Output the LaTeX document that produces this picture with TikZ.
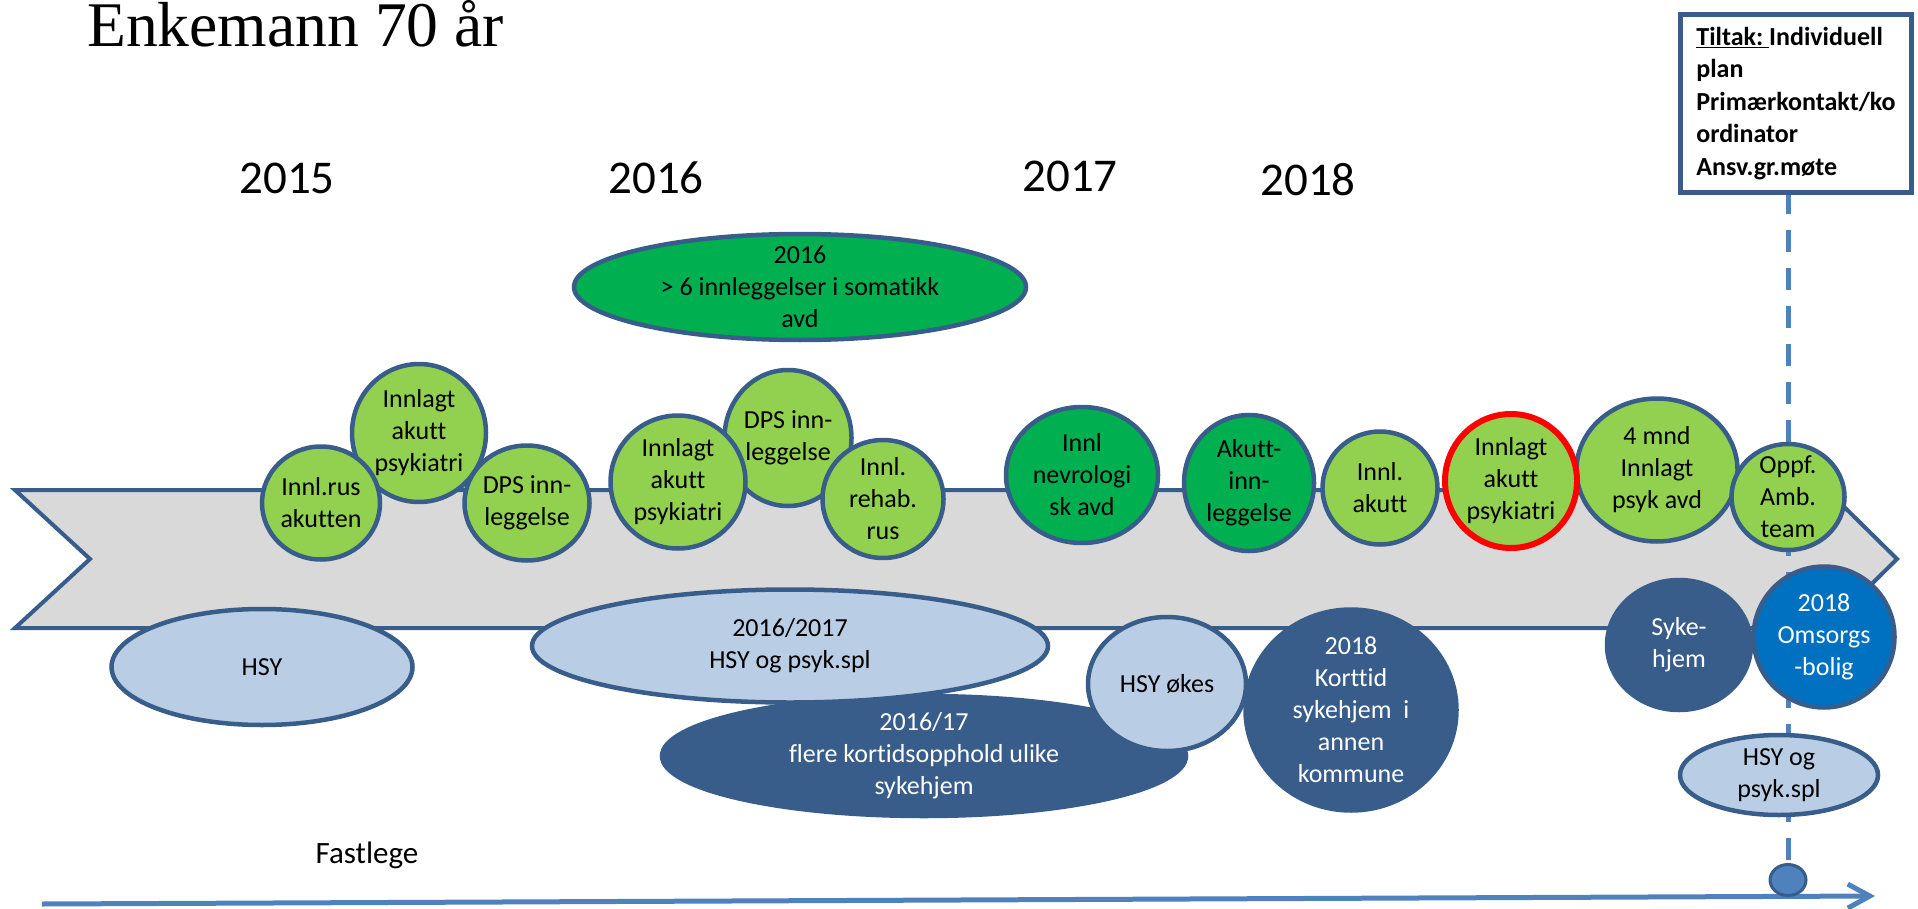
\documentclass[tikz,border=0pt]{standalone}
\usepackage{fontspec}
\setmainfont{Carlito}[Ligatures=NoCommon]
\newfontfamily\titlefont{Liberation Serif}
\usepackage{xcolor}
\usetikzlibrary{shapes.geometric, arrows.meta, positioning}

\definecolor{blobline}{HTML}{385D8A}
\definecolor{ballgreen}{HTML}{92D050}
\definecolor{deepgreen}{HTML}{00B050}
\definecolor{paleblue}{HTML}{B9CDE5}
\definecolor{homeblue}{HTML}{385D8A}
\definecolor{brightblue}{HTML}{0070C0}
\definecolor{lineblue}{HTML}{4F81BD}
\definecolor{bandgrey}{HTML}{D9D9D9}

\begin{document}
\begin{tikzpicture}[
        x=1pt, y=-1pt,
        dims/.style 2 args={minimum width=#1pt, minimum height=#2pt},
        blob/.style={ellipse, draw=blobline, line width=4.5pt, inner sep=-8pt, align=center, font=\fontsize{26}{32}\selectfont},
        lightball/.style={blob, fill=ballgreen},
        darkball/.style={blob, fill=deepgreen},
        redball/.style={blob, fill=ballgreen, draw=red, line width=6pt},
        hsyblob/.style={blob, fill=paleblue},
        homeblob/.style={blob, fill=homeblue, text=white},
        omsblob/.style={blob, fill=brightblue, text=white},
        year/.style={anchor=base, inner sep=0pt, font=\fontsize{47}{52}\selectfont},
        band/.style={draw=blobline, fill=bandgrey, line width=4pt},
        tiltakbox/.style={rectangle, draw=blobline, fill=white, line width=5pt, minimum width=231pt, minimum height=178pt, inner sep=0pt, align=left, font=\bfseries\fontsize{26}{32.5}\selectfont},
        dot/.style={ellipse, draw=blobline, fill=lineblue, line width=3pt, inner sep=0pt},
        timeline/.style={draw=lineblue, line width=5pt, -{Straight Barb[length=22pt, width=24pt]}},
        dashline/.style={draw=lineblue, line width=5pt, dash pattern=on 22pt off 16pt, dash phase=3pt}
    ]
    \useasboundingbox (0,0) rectangle (1918,909);

    % Band (manual layout to match figure)
    \draw[band] (15,490) -- (1827,490) -- (1897,559) -- (1827,628) -- (15,628) -- (90,559) -- cycle;

    % Title and years
    \node[anchor=base west, inner sep=0pt, font=\titlefont\fontsize{63.6}{70}\selectfont] (title) at (87,47) {Enkemann 70 år};
    \node[year] (Y15) at (287,194) {2015};
    \node[year] (Y16) at (656,194) {2016};
    \node[year] (Y17) at (1070,192) {2017};
    \node[year] (Y18) at (1308,196) {2018};

    % Time line and measures
    \coordinate (tstart) at (42,904);
    \coordinate (tend) at (1875,896);
    \draw[timeline] (tstart) -- (tend);
    \node[tiltakbox] (tiltak) at (1796,103.5) {\underline{Tiltak:\ }Individuell\\plan\\Primærkontakt/ko\\ordinator\\Ansv.gr.møte};
    \node[dot, dims={36}{31}] (dot) at (1788,880) {};
    \draw[dashline] (tiltak.south -| dot.north) -- (dot.north);

    % Admissions above the band
    \node[lightball, dims={134}{138}] (psykA) at (419,433) {Innlagt\\akutt\\psykiatri};
    \node[lightball, dims={118}{113}] (rus) at (321,503) {Innl.rus\\akutten};
    \node[lightball, dims={125}{115}] (dpsA) at (527,503) {DPS inn-\\leggelse};
    \node[lightball, dims={127}{136}] (dpsB) at (788,438) {DPS inn-\\leggelse};
    \node[lightball, dims={135}{133}] (psykB) at (678,482) {Innlagt\\akutt\\psykiatri};
    \node[lightball, dims={121}{118}] (rehab) at (883,499) {Innl.\\rehab.\\rus};
    \node[darkball, dims={452}{106}] (somatikk) at (800,287) {2016\\> 6 innleggelser i somatikk\\avd};
    \node[darkball, dims={152}{136}] (nevro) at (1082,475) {Innl\\nevrologi\\sk avd};
    \node[darkball, dims={130}{136}] (akuttA) at (1249,483) {Akutt-\\inn-\\leggelse};
    \node[lightball, dims={115}{113}] (akuttB) at (1380,488) {Innl.\\akutt};
    \node[lightball, dims={161}{143}] (mnd) at (1657,470) {4 mnd\\Innlagt\\psyk avd};
    \node[redball, dims={132}{134}] (psykC) at (1511,481) {Innlagt\\akutt\\psykiatri};
    \node[lightball, dims={113}{106}] (oppf) at (1788,497) {Oppf.\\Amb.\\team};

    % Services below the band
    \node[hsyblob, dims={301}{116}] (hsyA) at (262,667) {HSY};
    \node[homeblob, dims={524}{120}] (kortA) at (924,756) {2016/17\\flere kortidsopphold ulike\\sykehjem};
    \node[hsyblob, dims={516}{113}] (hsyB) at (790,646) {2016/2017\\HSY og psyk.spl};
    \node[homeblob, dims={211}{201}] (kortB) at (1351,710) {2018\\Korttid\\sykehjem\ \ i\\annen\\kommune};
    \node[hsyblob, dims={158}{134}] (okes) at (1167,684) {HSY økes};
    \node[homeblob, dims={144}{130}] (syke) at (1679,645) {Syke-\\hjem};
    \node[omsblob, dims={141}{141}] (omsorg) at (1824,637) {2018\\Omsorgs\\-bolig};
    \node[hsyblob, dims={198}{80}] (hsyC) at (1779,775) {HSY og\\psyk.spl};

    \node[anchor=base, inner sep=0pt, font=\fontsize{31}{36}\selectfont] (fastlege) at (367,863) {Fastlege};

\end{tikzpicture}
\end{document}
